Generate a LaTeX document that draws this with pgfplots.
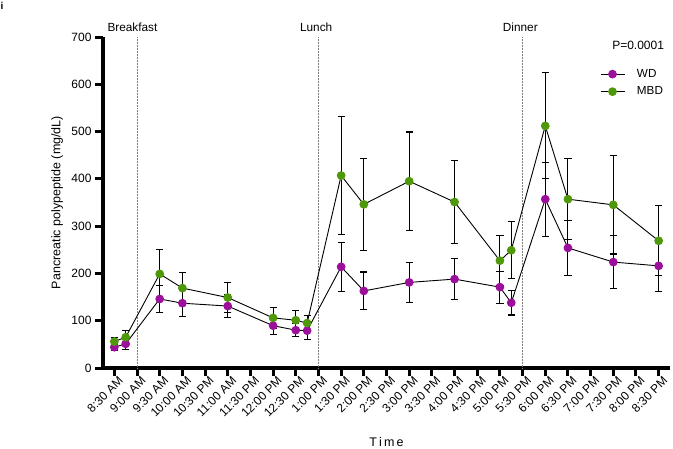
\documentclass[border=0pt]{standalone}
\usepackage{pgfplots}
\pgfplotsset{compat=1.18}
\usepackage{fontspec}
\setmainfont{Liberation Sans}
\definecolor{wdc}{RGB}{155,15,155}
\definecolor{mbdc}{RGB}{78,152,10}
\begin{document}
\begin{tikzpicture}[x=1pt,y=1pt]
\path[use as bounding box] (0,0) rectangle (673,448);
\node[anchor=north west,inner sep=0pt,font=\bfseries\fontsize{10}{12}\selectfont] at (0.5,446) {i};
\begin{axis}[
  at={(103pt,80pt)}, anchor=south west,
  scale only axis, width=567pt, height=331pt,
  xmin=-0.5, xmax=24.5, ymin=0, ymax=700,
  axis x line*=bottom, axis y line*=left,
  axis line style={line width=3.2pt},
  every outer x axis line/.append style={-},
  every outer y axis line/.append style={-},
  tick style={line width=3pt, black},
  tick align=outside, major tick length=8pt,
  xtick={0,...,24},
  xticklabels={8:30 AM,9:00 AM,9:30 AM,10:00 AM,10:30 PM,11:00 AM,11:30 PM,12:00 PM,12:30 PM,1:00 PM,1:30 PM,2:00 PM,2:30 PM,3:00 PM,3:30 PM,4:00 PM,4:30 PM,5:00 PM,5:30 PM,6:00 PM,6:30 PM,7:00 PM,7:30 PM,8:00 PM,8:30 PM},
  xticklabel style={rotate=45, anchor=north east, font=\fontsize{12}{13}\selectfont, inner sep=1pt, xshift=4pt, yshift=-1pt},
  ytick={0,100,...,700},
  yticklabel style={font=\fontsize{12}{13}\selectfont},
  /pgf/number format/assume math mode=true,
  ylabel={Pancreatic polypeptide (mg/dL)},
  ylabel style={font=\fontsize{12.5}{14}\selectfont, at={(axis description cs:-0.081,0.5)}, anchor=center},
  xlabel={T\,i\,m\,e},
  xlabel style={font=\fontsize{12.5}{14}\selectfont, at={(axis description cs:0.5,0)}, anchor=center, yshift=-74pt},
  clip=false,
  legend style={draw=none, fill=none, at={(0.871,0.915)}, anchor=north west, font=\fontsize{11.7}{13}\selectfont, row sep=4pt,
    /tikz/every odd column/.append style={column sep=10pt}},
  legend cell align=left,
  legend image code/.code={\draw[mark repeat=2, mark phase=2, #1] plot coordinates {(0pt,0pt) (12pt,0pt) (24pt,0pt)};},
]
% meal lines
\draw[densely dotted, gray, line width=0.5pt] (axis cs:1,0) -- (axis cs:1,700);
\draw[densely dotted, gray, line width=0.5pt] (axis cs:9,0) -- (axis cs:9,700);
\draw[densely dotted, gray, line width=0.5pt] (axis cs:18,0) -- (axis cs:18,700);
\node[font=\fontsize{11.8}{13}\selectfont, anchor=south] at (axis cs:0.8,703) {Breakfast};
\node[font=\fontsize{11.8}{13}\selectfont, anchor=south] at (axis cs:8.9,703) {Lunch};
\node[font=\fontsize{11.8}{13}\selectfont, anchor=south] at (axis cs:17.9,703) {Dinner};
\node[font=\fontsize{12}{13}\selectfont, anchor=west] at (axis cs:21.8,683) {P=0.0001};
% WD
\addplot[black, line width=0.9pt, mark=*, mark size=3.9pt, mark options={draw=wdc, fill=wdc},
  error bars/.cd, y dir=both, y explicit, error bar style={line width=1.1pt, black}, error mark options={rotate=90, mark size=3.6pt, line width=1.1pt, black}]
coordinates {
(0,44) +- (0,6)
(0.5,51) +- (0,11)
(2,146) +- (0,28)
(3,137) +- (0,28)
(5,131) +- (0,24)
(7,89.5) +- (0,19)
(8,80) +- (0,14)
(8.5,79) +- (0,19)
(10,214) +- (0,52)
(11,163) +- (0,40)
(13,181) +- (0,42)
(15,188) +- (0,44)
(17,171) +- (0,34)
(17.5,138) +- (0,26)
(19,357) +- (0,78)
(20,254) +- (0,58)
(22,224) +- (0,56)
(24,216) +- (0,55)
};
\addlegendentry{WD}
% MBD
\addplot[black, line width=0.9pt, mark=*, mark size=3.9pt, mark options={draw=mbdc, fill=mbdc},
  error bars/.cd, y dir=both, y explicit, error bar style={line width=1.1pt, black}, error mark options={rotate=90, mark size=3.6pt, line width=1.1pt, black}]
coordinates {
(0,56) +- (0,9)
(0.5,65) +- (0,15)
(2,199) +- (0,51)
(3,169) +- (0,33)
(5,149) +- (0,31)
(7,106) +- (0,22)
(8,101) +- (0,21)
(8.5,95) +- (0,16)
(10,407) +- (0,124)
(11,346) +- (0,98)
(13,395) +- (0,104)
(15,351) +- (0,87)
(17,227) +- (0,53)
(17.5,249) +- (0,60)
(19,512) +- (0,112)
(20,357) +- (0,86)
(22,345) +- (0,104)
(24,269) +- (0,74)
};
\addlegendentry{MBD}
\end{axis}
\end{tikzpicture}
\end{document}
